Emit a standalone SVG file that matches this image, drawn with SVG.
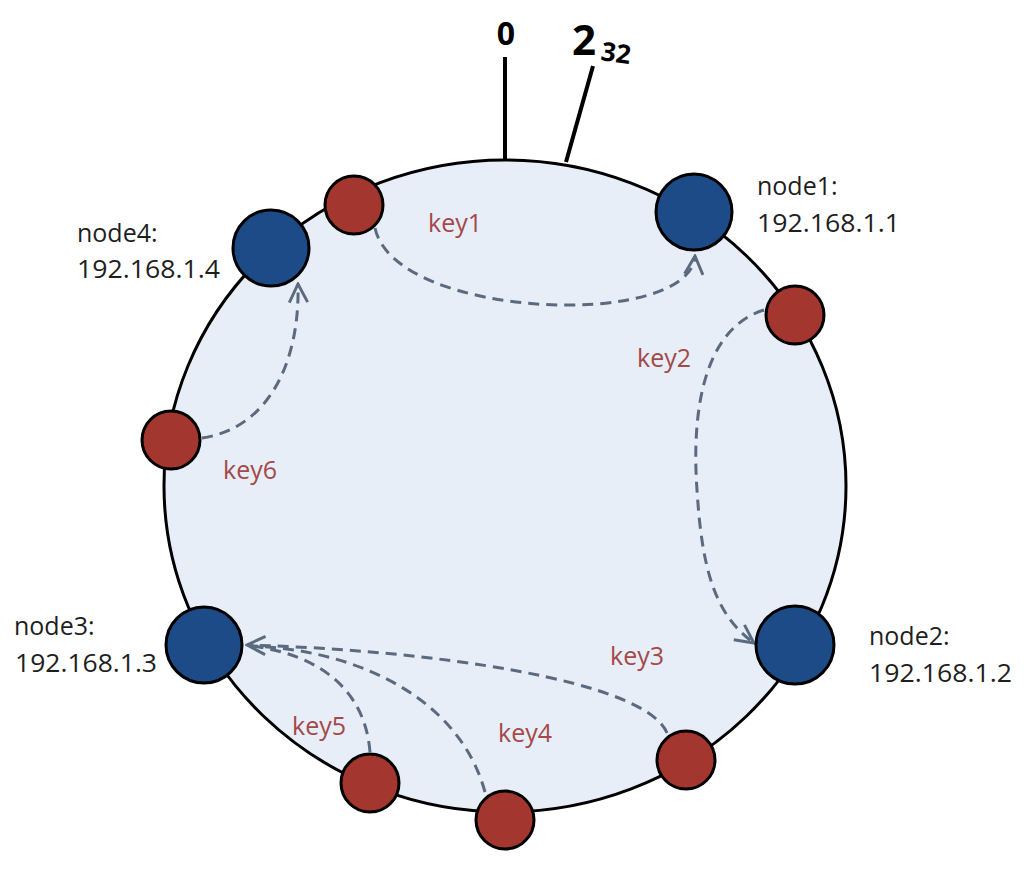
<svg xmlns="http://www.w3.org/2000/svg" width="1027" height="870" viewBox="0 0 1027 870">
<style>
.ring{fill:#e7eef7;stroke:#000;stroke-width:3}
.srv{fill:#1d4b88;stroke:#000;stroke-width:3}
.key{fill:#a3362f;stroke:#000;stroke-width:3}
.lbl{font-family:"Open Sans",Lato,sans-serif;font-size:25px;fill:#1e1e1e}
.klbl{font-family:"Open Sans",Lato,sans-serif;font-size:25px;fill:#a4484a}
.big{font-family:"Open Sans",Lato,sans-serif;font-weight:bold;fill:#000}
.tick{stroke:#000;stroke-width:4;fill:none}
.conn{fill:none;stroke:#5b6a7e;stroke-width:3;stroke-dasharray:11 7}
</style>
<defs>
<marker id="arr" viewBox="0 0 12 12" refX="11" refY="6" markerWidth="22" markerHeight="22" markerUnits="userSpaceOnUse" orient="auto">
<path d="M1,1 L11,6 L1,11" fill="none" stroke="#5b6a7e" stroke-width="1.6"/>
</marker>
</defs>
<rect width="1027" height="870" fill="#fff"/>
<g id="ring">
<ellipse class="ring" cx="505" cy="486" rx="341" ry="326"/>
<line class="tick" x1="505" y1="57" x2="505" y2="160"/>
<line class="tick" x1="593" y1="66" x2="566" y2="162"/>
<text class="big" x="506" y="45" font-size="32" text-anchor="middle">0</text>
<text class="big" x="572" y="55" font-size="42">2</text>
<text class="big" x="600" y="60" font-size="26" transform="rotate(8 600 60)">32</text>
</g>
<g id="connectors">
<path class="conn" d="M375,228 C395,320 690,330 695,256" marker-end="url(#arr)"/>
<path class="conn" d="M764,310 C700,330 692,420 697,490 C702,570 715,615 754,643" marker-end="url(#arr)"/>
<path class="conn" d="M667,733 C645,680 430,650 247,645" marker-end="url(#arr)"/>
<path class="conn" d="M485,792 C460,700 360,650 252,646"/>
<path class="conn" d="M370,752 C365,690 320,655 252,646"/>
<path class="conn" d="M202,438 C270,428 300,360 298,284" marker-end="url(#arr)"/>
</g>
<g id="node1">
<circle class="srv" cx="694" cy="212" r="38"/>
<text class="lbl" x="757" y="195">node1:</text>
<text class="lbl" x="757" y="232" textLength="143" lengthAdjust="spacingAndGlyphs">192.168.1.1</text>
</g>
<g id="node2">
<circle class="srv" cx="795" cy="645" r="39"/>
<text class="lbl" x="869" y="645">node2:</text>
<text class="lbl" x="869" y="682" textLength="143" lengthAdjust="spacingAndGlyphs">192.168.1.2</text>
</g>
<g id="node3">
<circle class="srv" cx="204" cy="645" r="38"/>
<text class="lbl" x="14" y="635">node3:</text>
<text class="lbl" x="15" y="672" textLength="142" lengthAdjust="spacingAndGlyphs">192.168.1.3</text>
</g>
<g id="node4">
<circle class="srv" cx="271" cy="248" r="38"/>
<text class="lbl" x="77" y="242">node4:</text>
<text class="lbl" x="77" y="278" textLength="143" lengthAdjust="spacingAndGlyphs">192.168.1.4</text>
</g>
<g id="key1">
<circle class="key" cx="354" cy="205" r="29"/>
<text class="klbl" x="428" y="232">key1</text>
</g>
<g id="key2">
<circle class="key" cx="795" cy="315" r="29"/>
<text class="klbl" x="637" y="367">key2</text>
</g>
<g id="key3">
<circle class="key" cx="686" cy="760" r="29"/>
<text class="klbl" x="610" y="665">key3</text>
</g>
<g id="key4">
<circle class="key" cx="505" cy="820" r="29"/>
<text class="klbl" x="498" y="742">key4</text>
</g>
<g id="key5">
<circle class="key" cx="370" cy="783" r="29"/>
<text class="klbl" x="292" y="735">key5</text>
</g>
<g id="key6">
<circle class="key" cx="171" cy="440" r="29"/>
<text class="klbl" x="223" y="479">key6</text>
</g>
</svg>
